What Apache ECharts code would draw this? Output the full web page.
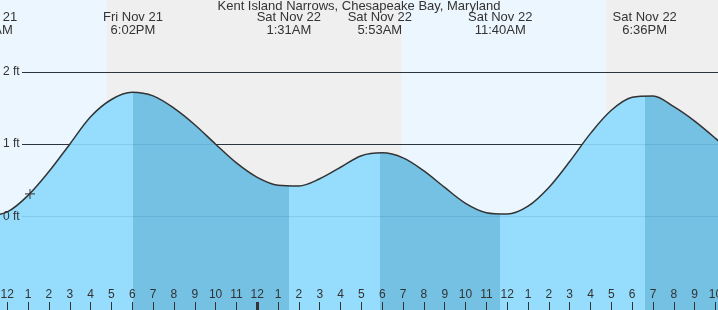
<!DOCTYPE html>
<html><head><meta charset="utf-8">
<script src="https://cdn.jsdelivr.net/npm/echarts@6/dist/echarts.min.js"></script>
<style>html,body{margin:0;padding:0;background:#fff}#c{width:718px;height:310px}</style>
</head><body><div id="c"></div>
<script>
// Hours counted from Fri Nov 21 00:00
const titleText = 'Kent Island Narrows, Chesapeake Bay, Maryland';
const tideHours = [11, 12, 13, 14, 15, 16, 17, 18, 19, 20, 21, 22, 23, 24, 25, 26, 27, 28, 29, 30, 31, 32, 33, 34, 35, 36, 37, 38, 39, 40, 41, 42, 43, 44, 45, 46, 47];
const tideFeet = [0.00, 0.06, 0.29, 0.62, 1.00, 1.38, 1.62, 1.72, 1.67, 1.50, 1.27, 1.00, 0.74, 0.54, 0.43, 0.42, 0.52, 0.68, 0.84, 0.88, 0.81, 0.63, 0.40, 0.18, 0.05, 0.03, 0.14, 0.40, 0.76, 1.15, 1.47, 1.65, 1.67, 1.52, 1.32, 1.08, 0.82];
const extremeHours = [11.04, 18.033, 25.517, 29.883, 35.667, 42.6];
const extremeDates = ['Fri Nov 21', 'Fri Nov 21', 'Sat Nov 22', 'Sat Nov 22', 'Sat Nov 22', 'Sat Nov 22'];
const extremeTimes = ['11:02AM', '6:02PM', '1:31AM', '5:53AM', '11:40AM', '6:36PM'];
const extremeTypes = ['low', 'high', 'low', 'high', 'low', 'high'];
const hourTicks = [12, 13, 14, 15, 16, 17, 18, 19, 20, 21, 22, 23, 24, 25, 26, 27, 28, 29, 30, 31, 32, 33, 34, 35, 36, 37, 38, 39, 40, 41, 42, 43, 44, 45, 46];
const midnightTicks = [24];
const nightStarts = [16.77, 40.75];
const nightEnds = [30.92, 46.12];
const feetTicks = [0, 1, 2];
const currentHour = [13.09];
const currentFeet = [0.31];

const xMin = 11.65, xMax = 46.12, yMin = -1.3, yMax = 3.0;
const FONT = '"Liberation Sans", Arial, sans-serif';
const TEXT = '#333';
const DAY = '#ecf6fe', NIGHT = '#efefef', RISING = '#96dcfd', FALLING = '#74c1e4';
const SMOOTH = 0.33;
const gridStart = xMin + 22 / 718 * (xMax - xMin);

const tideData = tideHours.map((h, i) => [h, tideFeet[i]]);
const pieces = [];
let prev = null;
extremeHours.forEach((h, i) => {
  const colorBefore = extremeTypes[i] === 'high' ? RISING : FALLING;
  const p = { color: colorBefore, lt: h };
  if (prev !== null) p.gte = prev;
  pieces.push(p);
  prev = h;
});
pieces.push({ gte: prev, color: extremeTypes[extremeTypes.length - 1] === 'high' ? FALLING : RISING });

const chart = echarts.init(document.getElementById('c'), null, { renderer: 'canvas' });
const option = {
  animation: false,
  backgroundColor: DAY,
  textStyle: { fontFamily: FONT },
  title: {
    text: titleText, left: 'center', top: 0, padding: 0,
    textStyle: { fontSize: 13, fontWeight: 'normal', color: TEXT, fontFamily: FONT }
  },
  grid: { left: 0, right: 0, top: 0, bottom: 0, containLabel: false, outerBoundsMode: 'none' },
  xAxis: [{
    type: 'value', min: xMin, max: xMax, position: 'bottom', z: 10,
    axisLine: { show: false, onZero: false }, splitLine: { show: false },
    axisTick: { show: true, inside: true, length: 8, customValues: hourTicks, lineStyle: { color: TEXT, width: 1 } },
    axisLabel: { show: true, inside: true, margin: 9, customValues: hourTicks, fontSize: 12, color: TEXT, fontFamily: FONT,
      hideOverlap: false, formatter: v => String((Math.round(v) % 12) || 12) }
  }, {
    type: 'value', min: xMin, max: xMax, position: 'bottom', z: 10,
    axisLine: { show: false, onZero: false }, splitLine: { show: false },
    axisTick: { show: true, inside: true, length: 8, customValues: midnightTicks, lineStyle: { color: TEXT, width: 3 } },
    axisLabel: { show: false }
  }],
  yAxis: {
    type: 'value', min: yMin, max: yMax, z: 10,
    axisLine: { show: false, onZero: false }, axisTick: { show: false }, splitLine: { show: false },
    axisLabel: { inside: true, margin: 3, customValues: feetTicks, fontSize: 12, color: TEXT, fontFamily: FONT,
      formatter: v => v + ' ft' }
  },
  visualMap: { type: 'piecewise', show: false, dimension: 0, seriesIndex: 0, pieces: pieces },
  series: [{
    type: 'line', data: tideData, smooth: SMOOTH, symbol: 'none', z: 2, silent: true,
    lineStyle: { width: 0, opacity: 0 },
    areaStyle: { opacity: 1, origin: 'start' },
    markArea: {
      silent: true, z: 1,
      itemStyle: { color: NIGHT },
      data: nightStarts.map((s, i) => [{ xAxis: s }, { xAxis: nightEnds[i] }])
    },
    markLine: {
      silent: true, z: 1.5, symbol: 'none', label: { show: false },
      lineStyle: { color: TEXT, width: 1, type: 'solid' },
      data: feetTicks.map(v => [{ coord: [gridStart, v] }, { coord: [xMax, v] }])
    }
  }, {
    type: 'line', data: tideData, smooth: SMOOTH, symbol: 'none', z: 4, silent: true,
    lineStyle: { color: TEXT, width: 1.5 },
    markLine: {
      silent: true, z: 3, symbol: 'none', label: { show: false },
      lineStyle: { color: 'rgba(0,70,130,0.12)', width: 1, type: 'solid' },
      data: feetTicks.map(v => [{ coord: [gridStart, v] }, { coord: [xMax, v] }])
    }
  }, {
    type: 'scatter', z: 5, silent: true,
    data: currentHour.map((h, i) => [h, currentFeet[i]]),
    symbol: 'path://M0 5 L10 5 M5 0 L5 10', symbolSize: 10,
    itemStyle: { color: 'none', borderColor: TEXT, borderWidth: 1.2 }
  }]
};
chart.setOption(option);

const labels = extremeHours.map((h, i) => ({
  type: 'text', silent: true, z: 10,
  x: chart.convertToPixel({ xAxisIndex: 0 }, h), y: 11,
  style: {
    text: extremeDates[i] + '\n' + extremeTimes[i],
    align: 'center', textAlign: 'center', verticalAlign: 'top', textVerticalAlign: 'top',
    fontSize: 13, fontFamily: FONT, lineHeight: 13, fill: TEXT
  }
}));
chart.setOption({ graphic: labels });
</script>
</body></html>
